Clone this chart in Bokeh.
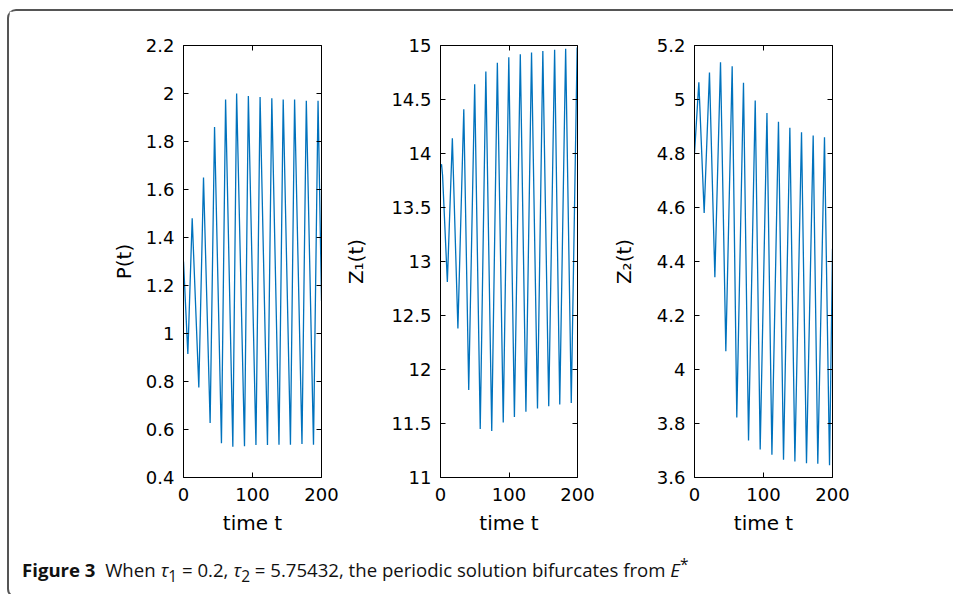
from bokeh.plotting import figure
from bokeh.layouts import row, column
from bokeh.models import Div, FixedTicker, Range1d, LinearAxis
from bokeh.embed import file_html
from bokeh.resources import INLINE

# ---------------- data ----------------
x_ticks = [0, 100, 200]
x_labels = ["0", "100", "200"]

p_t = [0, 6.3, 12.6, 22.2, 29, 38.6, 45, 55, 61, 71.5, 77, 88.4, 94, 105, 111,
       121.7, 128, 138.4, 144.5, 155, 161, 171.7, 178, 188.4, 195, 200]
p_v = [1.30, 0.915, 1.48, 0.775, 1.65, 0.627, 1.86, 0.543, 1.975, 0.528, 2.0,
       0.53, 1.99, 0.535, 1.985, 0.535, 1.98, 0.537, 1.975, 0.537, 1.975, 0.54,
       1.97, 0.537, 1.97, 1.137]
p_ticks = [0.4, 0.6, 0.8, 1.0, 1.2, 1.4, 1.6, 1.8, 2.0, 2.2]
p_labels = ["0.4", "0.6", "0.8", "1", "1.2", "1.4", "1.6", "1.8", "2", "2.2"]

z1_t = [0, 1.5, 3, 10, 17.3, 25.4, 34, 41.2, 49.9, 58, 66.2, 74.8, 83, 91.6,
        99.7, 107.9, 116.5, 124.7, 132.9, 141.6, 149.4, 158, 166.6, 174.1,
        182.7, 190.9, 199.5, 200]
z1_v = [13.88, 13.9, 13.8, 12.81, 14.14, 12.38, 14.41, 11.81, 14.64, 11.45,
        14.76, 11.43, 14.84, 11.51, 14.89, 11.56, 14.92, 11.61, 14.935, 11.64,
        14.95, 11.66, 14.96, 11.675, 14.97, 11.69, 14.98, 14.98]
z1_ticks = [11, 11.5, 12, 12.5, 13, 13.5, 14, 14.5, 15]
z1_labels = ["11", "11.5", "12", "12.5", "13", "13.5", "14", "14.5", "15"]

z2_t = [0, 6.3, 14, 21.7, 29.5, 37.7, 45.4, 54.6, 61.3, 71, 78.3, 88, 95.2,
        105, 112.2, 121.7, 129, 138.2, 145.5, 155.1, 162.3, 172, 178.7, 188.4,
        195.7, 200]
z2_v = [4.80, 5.064, 4.58, 5.10, 4.342, 5.138, 4.068, 5.123, 3.822, 5.062,
        3.737, 4.996, 3.704, 4.95, 3.684, 4.918, 3.666, 4.895, 3.659, 4.879,
        3.653, 4.867, 3.651, 4.86, 3.645, 4.447]
z2_ticks = [3.6, 3.8, 4.0, 4.2, 4.4, 4.6, 4.8, 5.0, 5.2]
z2_labels = ["3.6", "3.8", "4", "4.2", "4.4", "4.6", "4.8", "5", "5.2"]

# ---------------- styling ----------------
LINE = "#0072BD"
TICK_FONT = "DejaVu Sans"
TICK_SIZE = "18px"
LABEL_SIZE = "20px"
H = 536
TOP = 34
BOTTOM = 70


def style_axis(ax, show_labels=True):
    ax.axis_line_color = "black"
    ax.axis_line_width = 1
    ax.major_tick_line_color = "black"
    ax.major_tick_in = 5
    ax.major_tick_out = 0
    ax.minor_tick_in = 0
    ax.minor_tick_out = 0
    ax.minor_tick_line_color = None
    ax.major_label_text_font = TICK_FONT
    ax.major_label_text_color = "black"
    ax.axis_label_text_font = TICK_FONT
    ax.axis_label_text_font_style = "normal"
    ax.axis_label_text_font_size = LABEL_SIZE
    ax.axis_label_text_color = "black"
    if show_labels:
        ax.major_label_text_font_size = TICK_SIZE
    else:
        ax.major_label_text_font_size = "0px"
        ax.major_label_text_color = None
        ax.major_label_standoff = 0


def make_panel(t, v, yr, yticks, ylabels, ylabel, left, right, frame_w, ystand):
    p = figure(width=left + frame_w + right, height=H,
               x_range=Range1d(0, 200), y_range=Range1d(*yr),
               output_backend="svg", toolbar_location=None,
               min_border_left=left, min_border_right=right,
               min_border_top=TOP, min_border_bottom=BOTTOM)
    p.line(t, v, line_color=LINE, line_width=1.3)
    p.xgrid.visible = False
    p.ygrid.visible = False
    p.outline_line_color = None
    p.background_fill_color = "white"
    p.border_fill_color = "white"

    xa = p.xaxis[0]
    xa.ticker = FixedTicker(ticks=x_ticks)
    xa.major_label_overrides = dict(zip(x_ticks, x_labels))
    style_axis(xa)
    xa.major_label_standoff = 10
    xa.axis_label = "time t"
    xa.axis_label_standoff = 7

    ya = p.yaxis[0]
    ya.ticker = FixedTicker(ticks=yticks)
    ya.major_label_overrides = dict(zip(yticks, ylabels))
    style_axis(ya)
    ya.major_label_standoff = 9
    ya.axis_label = ylabel
    ya.axis_label_standoff = ystand

    ra = LinearAxis(ticker=FixedTicker(ticks=yticks))
    style_axis(ra, show_labels=False)
    p.add_layout(ra, "right")
    ta = LinearAxis(ticker=FixedTicker(ticks=x_ticks))
    style_axis(ta, show_labels=False)
    p.add_layout(ta, "above")
    return p


f1 = make_panel(p_t, p_v, (0.4, 2.2), p_ticks, p_labels, "P(t)", 174, 20, 138, 7)
f2 = make_panel(z1_t, z1_v, (11, 15), z1_ticks, z1_labels, "Z\u2081(t)", 97, 20, 139, 20)
f3 = make_panel(z2_t, z2_v, (3.6, 5.2), z2_ticks, z2_labels, "Z\u2082(t)", 97, 40, 138, 18)

caption = Div(
    text=('<span style="font-weight:bold">Figure 3</span>&nbsp;&nbsp;When '
          '<i>\u03c4</i><sub>1</sub> = 0.2, <i>\u03c4</i><sub>2</sub> = 5.75432, '
          'the periodic solution bifurcates from <i>E</i><sup>*</sup>'),
    width=900, height=39,
    styles={"font-family": "Open Sans", "font-size": "18.6px", "color": "#111",
            "padding-left": "8px", "padding-top": "1px", "line-height": "22px",
            "box-sizing": "border-box"})

layout = column(
    row(f1, f2, f3),
    caption,
    styles={"border-top": "2px solid #555", "border-left": "2px solid #555",
            "border-bottom": "2px solid #555",
            "border-top-left-radius": "9px", "border-bottom-left-radius": "9px",
            "margin-top": "9px", "margin-left": "7px", "width": "946px",
            "background": "white"})

open("out.html", "w").write(file_html(layout, INLINE))
